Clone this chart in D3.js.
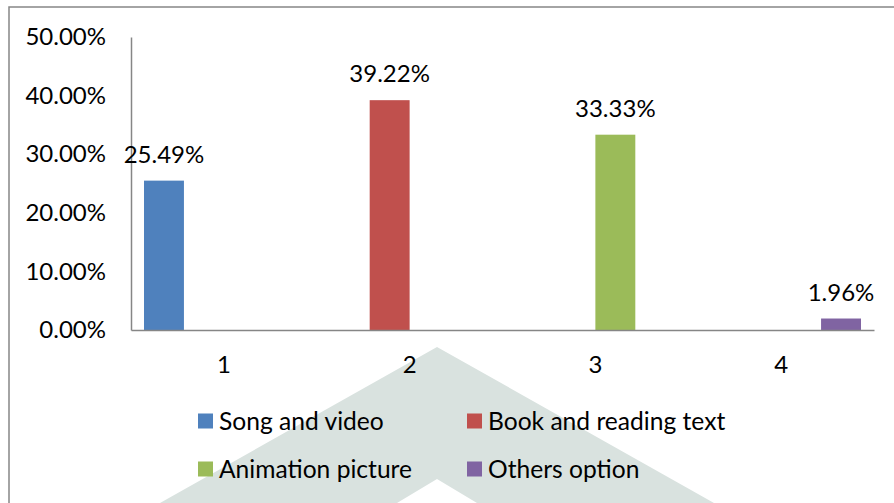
<!DOCTYPE html>
<html>
<head>
<meta charset="utf-8">
<script src="https://cdn.jsdelivr.net/npm/d3@7"></script>
<style>
  html, body { margin: 0; padding: 0; background: #fff; }
  svg { display: block; }
  text { font-family: Lato, "Open Sans", sans-serif; fill: #000; }
</style>
</head>
<body>
<svg id="chart" width="894" height="503"></svg>
<script>
// categories on the x axis
const categories = ['1', '2', '3', '4'];

// one series per answer, blank where Excel had no value
const seriesNames = ['Song and video', 'Book and reading text', 'Animation picture', 'Others option'];
const songValues = [25.49, null, null, null];
const bookValues = [null, 39.22, null, null];
const animationValues = [null, null, 33.33, null];
const othersValues = [null, null, null, 1.96];
const seriesColors = ['#4f81bd', '#c0504d', '#9bbb59', '#8064a2'];

const yTicks = [0, 10, 20, 30, 40, 50];

const allValues = [songValues, bookValues, animationValues, othersValues];

const svg = d3.select('#chart');

// faint watermark chevron behind the chart
svg.append('path')
  .attr('d', 'M160,503 L437,347 L714,503 L477,503 L437,479 L397,503 Z')
  .attr('fill', '#d9e2df');

// chart frame, right and bottom edges fall outside the picture
svg.append('rect')
  .attr('x', 9).attr('y', 7)
  .attr('width', 1000).attr('height', 600)
  .attr('fill', 'none')
  .attr('stroke', '#868686')
  .attr('stroke-width', 1.5);

const x = d3.scaleBand().domain(categories).range([131, 874]).paddingInner(0.14).paddingOuter(0.07);
const xSeries = d3.scaleBand().domain(seriesNames).range([0, x.bandwidth()]);
const y = d3.scaleLinear().domain([0, 50]).range([330, 37]);

const fmt = d => d.toFixed(2) + '%';

// y axis
const yAxis = svg.append('g')
  .attr('transform', 'translate(131,0)')
  .call(d3.axisLeft(y).tickValues(yTicks).tickFormat(fmt).tickSize(0).tickPadding(25));
yAxis.select('.domain').attr('stroke', '#868686').attr('stroke-width', 1.5);
yAxis.selectAll('text').attr('font-size', 24).attr('font-family', null).attr('fill', '#000');

// bars
const bars = [];
allValues.forEach((vals, s) => {
  vals.forEach((v, i) => {
    if (v != null) bars.push({cat: categories[i], series: seriesNames[s], value: v, color: seriesColors[s]});
  });
});

svg.append('g').selectAll('rect')
  .data(bars)
  .join('rect')
  .attr('x', d => x(d.cat) + xSeries(d.series))
  .attr('y', d => y(d.value))
  .attr('width', xSeries.bandwidth())
  .attr('height', d => y(0) - y(d.value))
  .attr('fill', d => d.color);

// data labels
svg.append('g').selectAll('text')
  .data(bars)
  .join('text')
  .attr('x', d => x(d.cat) + xSeries(d.series) + xSeries.bandwidth() / 2)
  .attr('y', d => y(d.value) - 18)
  .attr('text-anchor', 'middle')
  .attr('font-size', 24)
  .text(d => fmt(d.value));

// x axis
const xAxis = svg.append('g')
  .attr('transform', 'translate(0,330)')
  .call(d3.axisBottom(x).tickSize(0).tickPadding(26));
xAxis.select('.domain').attr('stroke', '#868686').attr('stroke-width', 1.5);
xAxis.selectAll('text').attr('font-size', 24).attr('font-family', null).attr('fill', '#000');

// legend, two columns
const legendPos = [[198, 421], [467, 421], [198, 469], [467, 469]];
const legend = svg.append('g').selectAll('g')
  .data(seriesNames)
  .join('g')
  .attr('transform', (d, i) => `translate(${legendPos[i][0]},${legendPos[i][1]})`);
legend.append('rect')
  .attr('x', 0).attr('y', -7.5)
  .attr('width', 15).attr('height', 15)
  .attr('fill', (d, i) => seriesColors[i]);
legend.append('text')
  .attr('x', 21).attr('dy', '0.35em')
  .attr('font-size', 24.6)
  .text(d => d);
</script>
</body>
</html>
